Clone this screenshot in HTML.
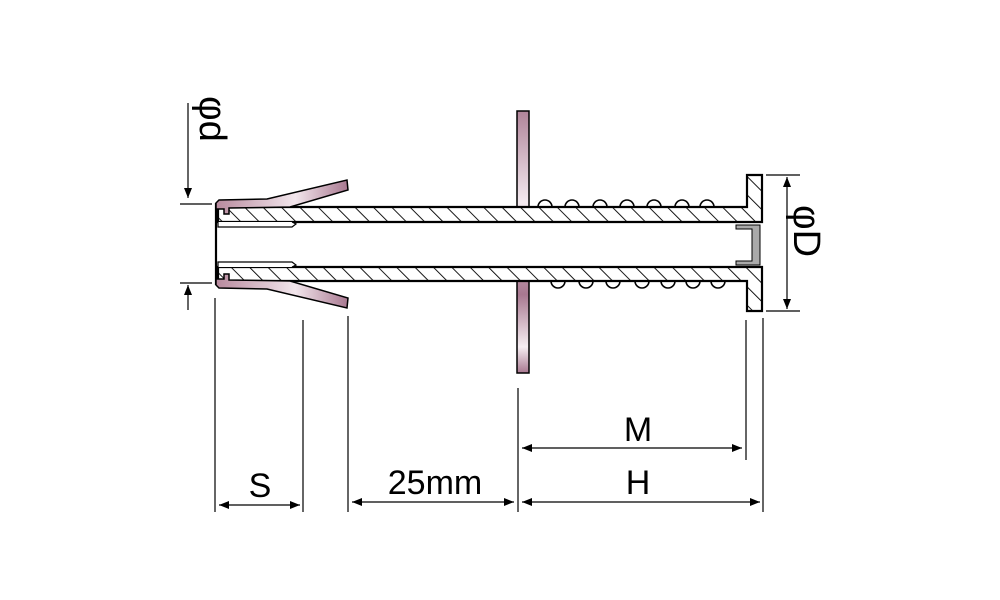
<!DOCTYPE html>
<html><head><meta charset="utf-8"><style>
html,body{margin:0;padding:0;background:#fff;}
svg{display:block;}
text{font-family:"Liberation Sans",sans-serif;fill:#000;}
</style></head><body>
<svg width="1000" height="600" viewBox="0 0 1000 600" xmlns="http://www.w3.org/2000/svg">
<defs>
<pattern id="h" patternUnits="userSpaceOnUse" width="13" height="13" patternTransform="rotate(-45)">
<line x1="0" y1="-2" x2="0" y2="15" stroke="#000" stroke-width="1.8"/>
</pattern>
<linearGradient id="wt" x1="0" y1="0" x2="1" y2="0">
<stop offset="0" stop-color="#b88a9e"/><stop offset="0.6" stop-color="#f2e6ec"/><stop offset="1" stop-color="#a87890"/>
</linearGradient>
<linearGradient id="pl" x1="0" y1="0" x2="0" y2="1">
<stop offset="0" stop-color="#b08499"/><stop offset="0.35" stop-color="#f4eaf0"/><stop offset="0.7" stop-color="#a87890"/><stop offset="0.9" stop-color="#f6eef2"/><stop offset="1" stop-color="#a87890"/>
</linearGradient>
<marker id="a" viewBox="0 0 10 10" refX="10" refY="5" markerWidth="10" markerHeight="10" orient="auto-start-reverse" markerUnits="userSpaceOnUse"><path d="M0,1 L10,5 L0,9 z" fill="#000"/></marker>
</defs>

<!-- plate -->
<rect x="517" y="111" width="12" height="262" fill="url(#pl)" stroke="#000" stroke-width="1.5"/>
<rect x="216" y="206" width="546" height="76" fill="#fff"/>

<!-- springs -->
<g fill="#fff" stroke="#000" stroke-width="1.6">
<path d="M538,207 a7,7 0 0 1 14,0"/><path d="M565,207 a7,7 0 0 1 14,0"/><path d="M593,207 a7,7 0 0 1 14,0"/><path d="M620,207 a7,7 0 0 1 14,0"/><path d="M647,207 a7,7 0 0 1 14,0"/><path d="M675,207 a7,7 0 0 1 14,0"/><path d="M700,207 a7,7 0 0 1 14,0"/>
<path d="M551,281 a7,7 0 0 0 14,0"/><path d="M579,281 a7,7 0 0 0 14,0"/><path d="M606,281 a7,7 0 0 0 14,0"/><path d="M635,281 a7,7 0 0 0 14,0"/><path d="M661,281 a7,7 0 0 0 14,0"/><path d="M686,281 a7,7 0 0 0 14,0"/><path d="M711,281 a7,7 0 0 0 14,0"/>
</g>

<!-- tube walls with flange -->
<path d="M218,207 L747,207 L747,175 L762,175 L762,222 L218,222 Z" fill="#fff"/>
<path d="M218,267 L762,267 L762,311 L747,311 L747,281 L218,281 Z" fill="#fff"/>
<path d="M218,207 L747,207 L747,175 L762,175 L762,222 L218,222 Z" fill="url(#h)" stroke="#000" stroke-width="2.2"/>
<path d="M218,267 L762,267 L762,311 L747,311 L747,281 L218,281 Z" fill="url(#h)" stroke="#000" stroke-width="2.2"/>
<!-- inner cap -->
<path d="M736,225 L760,225 L760,265 L736,265 L736,261 L752,261 L752,229 L736,229 Z" fill="#aaa" stroke="#000" stroke-width="1"/>
<!-- inner sleeve -->
<path d="M218,222 L218,227 L292,227 L296,224 L292,222" fill="#fff" stroke="#000" stroke-width="1.2"/>
<path d="M218,267 L218,262 L292,262 L296,265 L292,267" fill="#fff" stroke="#000" stroke-width="1.2"/>
<line x1="216" y1="203" x2="216" y2="285" stroke="#000" stroke-width="2.2"/>

<!-- wings -->
<path d="M219,200 L267,199 L347,180 L348,190 L290,207 L229,208 L229,214 L224,214 L224,209 L216,209 L216,203 Z" fill="url(#wt)" stroke="#000" stroke-width="1.5"/>
<path d="M219,288 L267,289 L347,308 L348,298 L290,281 L229,280 L229,274 L224,274 L224,279 L216,279 L216,285 Z" fill="url(#wt)" stroke="#000" stroke-width="1.5"/>

<!-- dimension lines -->
<g stroke="#000" stroke-width="1.2" fill="none">
<line x1="180" y1="204" x2="212" y2="204"/>
<line x1="180" y1="283" x2="212" y2="283"/>
<line x1="188" y1="103" x2="188" y2="198" marker-end="url(#a)"/>
<line x1="188" y1="310" x2="188" y2="285" marker-end="url(#a)"/>
<line x1="215" y1="298" x2="215" y2="512"/>
<line x1="303" y1="320" x2="303" y2="512"/>
<line x1="348" y1="316" x2="348" y2="512"/>
<line x1="518" y1="388" x2="518" y2="512"/>
<line x1="746" y1="320" x2="746" y2="460"/>
<line x1="763" y1="318" x2="763" y2="512"/>
<line x1="766" y1="175" x2="800" y2="175"/>
<line x1="766" y1="311" x2="800" y2="311"/>
<line x1="787" y1="177" x2="787" y2="309" marker-start="url(#a)" marker-end="url(#a)"/>
<line x1="219" y1="505" x2="300" y2="505" marker-start="url(#a)" marker-end="url(#a)"/>
<line x1="352" y1="502" x2="514" y2="502" marker-start="url(#a)" marker-end="url(#a)"/>
<line x1="522" y1="502" x2="760" y2="502" marker-start="url(#a)" marker-end="url(#a)"/>
<line x1="522" y1="448" x2="742" y2="448" marker-start="url(#a)" marker-end="url(#a)"/>
</g>

<text x="260" y="497" font-size="34" text-anchor="middle">S</text>
<text x="435" y="494" font-size="34" text-anchor="middle">25mm</text>
<text x="638" y="494" font-size="34" text-anchor="middle">H</text>
<text x="638" y="441" font-size="34" text-anchor="middle">M</text>
<text x="0" y="0" font-size="38" transform="translate(200,96) rotate(90)">φd</text>
<text x="0" y="0" font-size="38" transform="translate(794,205) rotate(90)">φD</text>
</svg>
</body></html>
